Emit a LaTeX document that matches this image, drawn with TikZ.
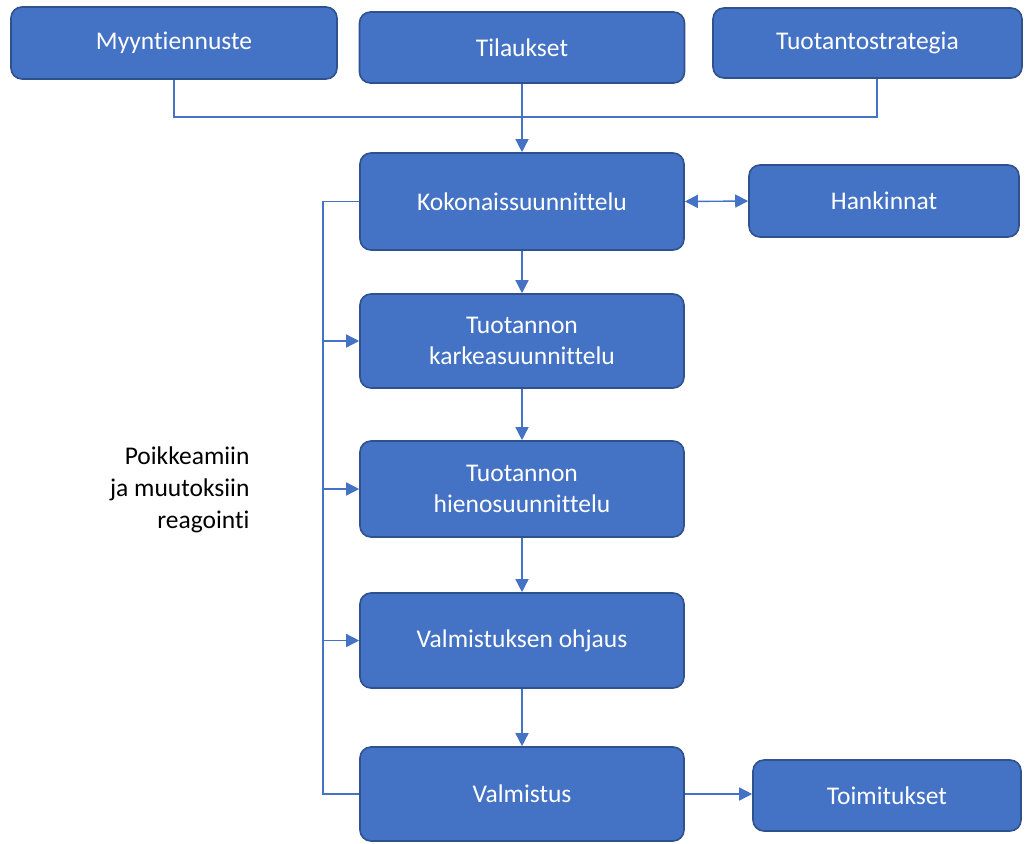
\documentclass[tikz,border=0pt]{standalone}
\usepackage{fontspec}
\setmainfont{Carlito}[Ligatures=NoCommon]
\usetikzlibrary{arrows.meta,positioning}
\definecolor{boxfill}{HTML}{4472C4}
\definecolor{boxline}{HTML}{2F528F}
\definecolor{link}{HTML}{4472C4}
\tikzset{
  stepbox/.style={draw=boxline, line width=1.6pt, fill=boxfill, rounded corners=11pt,
    text=white, align=center, inner sep=0pt,
    font=\fontsize{25.5}{31}\selectfont},
  conn/.style={draw=link, line width=1.4pt},
  tip/.style={-{Triangle[length=13pt,width=13pt]}},
}
\begin{document}
\begin{tikzpicture}[x=1pt,y=-1pt]
\useasboundingbox (0,0) rectangle (1035,843);
% top row inputs
\node[stepbox, minimum width=326pt, minimum height=72pt] (myynti) at (174,43) {Myyntiennuste};
\node[stepbox, minimum width=325pt, minimum height=71pt] (tilaukset) at (522,47.5) {Tilaukset};
\node[stepbox, minimum width=309pt, minimum height=70pt] (strategia) at (867.5,43) {Tuotantostrategia};
% main chain
\node[stepbox, minimum width=324pt, minimum height=97pt] (koko) at (522,201.5) {Kokonaissuunnittelu};
\node[stepbox, minimum width=270pt, minimum height=72pt] (hank) at (884,201) {Hankinnat};
\node[stepbox, minimum width=324pt, minimum height=94pt] (karkea) at (522,341) {Tuotannon\\karkeasuunnittelu};
\node[stepbox, minimum width=324pt, minimum height=96pt] (hieno) at (522,489) {Tuotannon\\hienosuunnittelu};
\node[stepbox, minimum width=324pt, minimum height=95pt] (ohjaus) at (522,640.5) {Valmistuksen ohjaus};
\node[stepbox, minimum width=324pt, minimum height=94pt] (valm) at (522,794) {Valmistus};
\node[stepbox, minimum width=268pt, minimum height=71pt] (toim) at (887,795.5) {Toimitukset};
% side label
\node[align=right, anchor=east, text=black, font=\fontsize{25.5}{32}\selectfont] (label) at (253,490) {Poikkeamiin\\ja muutoksiin\\reagointi};
% inputs merge into the overall plan
\coordinate (join) at (522,117);
\draw[conn] (myynti.south) |- (join);
\draw[conn] (strategia.south -| 877,0) |- (join);
\draw[conn, tip] (tilaukset.south) -- (koko.north);
% chain arrows
\draw[conn, tip] (koko.south) -- (karkea.north);
\draw[conn, tip] (karkea.south) -- (hieno.north);
\draw[conn, tip] (hieno.south) -- (ohjaus.north);
\draw[conn, tip] (ohjaus.south) -- (valm.north);
\draw[conn, {Triangle[length=13pt,width=13pt]}-{Triangle[length=13pt,width=13pt]}] (koko.east) -- (hank.west);
\draw[conn, tip] (valm.east) -- (toim.west |- valm.east);
% feedback loop
\coordinate (loop) at (323,0);
\draw[conn] (koko.west) -| (loop |- valm.west) -- (valm.west);
\draw[conn, tip] (loop |- karkea.west) -- (karkea.west);
\draw[conn, tip] (loop |- hieno.west) -- (hieno.west);
\draw[conn, tip] (loop |- ohjaus.west) -- (ohjaus.west);
\end{tikzpicture}
\end{document}
